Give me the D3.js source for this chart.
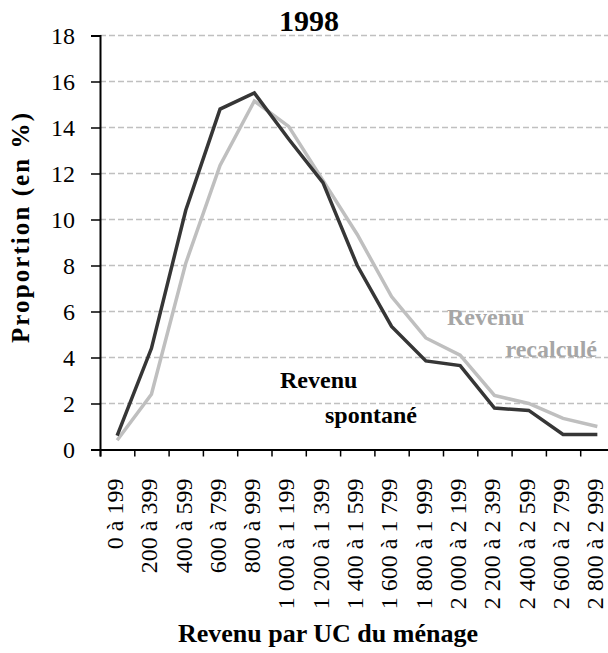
<!DOCTYPE html>
<html>
<head>
<meta charset="utf-8">
<script src="https://cdn.jsdelivr.net/npm/d3@7"></script>
<style>
  html, body { margin: 0; padding: 0; background: #fff; }
  svg { display: block; }
  text { font-family: "Liberation Serif", "Times New Roman", serif; }
</style>
</head>
<body>
<svg id="chart" width="608" height="653"></svg>
<script>
const categories = ["0 à 199", "200 à 399", "400 à 599", "600 à 799", "800 à 999",
  "1 000 à 1 199", "1 200 à 1 399", "1 400 à 1 599", "1 600 à 1 799", "1 800 à 1 999",
  "2 000 à 2 199", "2 200 à 2 399", "2 400 à 2 599", "2 600 à 2 799", "2 800 à 2 999"];
const spontane = [0.6, 4.4, 10.4, 14.8, 15.5, 13.5, 11.6, 8.0, 5.35, 3.85, 3.65, 1.8, 1.7, 0.65, 0.65];
const recalcule = [0.4, 2.4, 8.1, 12.35, 15.15, 14.05, 11.7, 9.35, 6.65, 4.85, 4.1, 2.35, 2.0, 1.35, 1.0];
const yTicks = [0, 2, 4, 6, 8, 10, 12, 14, 16, 18];
const title = "1998";
const xTitle = "Revenu par UC du ménage";
const yTitle = "Proportion (en %)";

const FONT = '"Liberation Serif", "Times New Roman", serif';
const svg = d3.select("#chart");
svg.append("rect").attr("width", 608).attr("height", 653).attr("fill", "#fff");

const x0 = 100, x1 = 614.5, yTop = 35.5, yBot = 449.5;
const x = d3.scaleBand().domain(categories).range([x0, x1]).padding(0);
const xb = d3.scaleLinear().domain([0, categories.length]).range([x0, x1]);
const y = d3.scaleLinear().domain([0, 18]).range([yBot, yTop]);

// gridlines
svg.append("g").selectAll("line").data(yTicks.filter(d => d > 0)).join("line")
  .attr("x1", x0).attr("x2", x1)
  .attr("y1", d => y(d)).attr("y2", d => y(d))
  .attr("stroke", "#c0c0c0").attr("stroke-width", 1.5)
  .attr("stroke-dasharray", "6,3");

// y axis
const gy = svg.append("g").attr("transform", `translate(${x0},0)`)
  .call(d3.axisLeft(y).tickValues(yTicks).tickSize(9).tickPadding(16).tickFormat(d3.format("d")));
gy.attr("font-family", FONT);
gy.select(".domain").attr("stroke", "#000").attr("stroke-width", 2);
gy.selectAll(".tick line").attr("stroke", "#000").attr("stroke-width", 1.5);
gy.selectAll(".tick text").attr("font-size", 24).attr("fill", "#000");

// x axis boundary ticks
const gxb = svg.append("g").attr("transform", `translate(0,${yBot})`)
  .call(d3.axisBottom(xb).tickValues(d3.range(0, categories.length + 1)).tickSize(7).tickFormat(""));
gxb.select(".domain").attr("stroke", "#000").attr("stroke-width", 2);
gxb.selectAll(".tick line").attr("stroke", "#000").attr("stroke-width", 1.5);

// x labels
const gx = svg.append("g").attr("transform", `translate(0,${yBot})`)
  .call(d3.axisBottom(x).tickSize(0));
gx.attr("font-family", FONT);
gx.select(".domain").remove();
gx.selectAll(".tick text")
  .attr("transform", "rotate(-90)")
  .attr("x", -29).attr("y", 0).attr("dy", "0.24em")
  .attr("text-anchor", "end")
  .attr("font-size", 24).attr("fill", "#000");

// lines
const line = d3.line().x((d, i) => x(categories[i]) + x.bandwidth() / 2).y(d => y(d));
svg.append("path").datum(recalcule).attr("d", line)
  .attr("fill", "none").attr("stroke", "#bfbfbf").attr("stroke-width", 3.5)
  .attr("stroke-linejoin", "miter");
svg.append("path").datum(spontane).attr("d", line)
  .attr("fill", "none").attr("stroke", "#363636").attr("stroke-width", 3.5)
  .attr("stroke-linejoin", "miter");

// line labels
svg.append("text").attr("x", 280).attr("y", 388).attr("font-size", 24).attr("font-weight", "bold")
  .attr("fill", "#000").text("Revenu");
svg.append("text").attr("x", 417).attr("y", 423).attr("text-anchor", "end").attr("font-size", 24)
  .attr("font-weight", "bold").attr("fill", "#000").text("spontané");
svg.append("text").attr("x", 447).attr("y", 325).attr("font-size", 24).attr("font-weight", "bold")
  .attr("fill", "#a6a6a6").text("Revenu");
svg.append("text").attr("x", 597).attr("y", 357).attr("text-anchor", "end").attr("font-size", 24)
  .attr("font-weight", "bold").attr("fill", "#a6a6a6").text("recalculé");

// title
svg.append("text").attr("x", 309).attr("y", 31).attr("text-anchor", "middle")
  .attr("font-size", 30).attr("font-weight", "bold").attr("fill", "#000").text(title);

// axis titles
svg.append("text").attr("x", 328).attr("y", 642).attr("text-anchor", "middle")
  .attr("font-size", 26).attr("font-weight", "bold").attr("fill", "#000").text(xTitle);
svg.append("text").attr("transform", "translate(29,228) rotate(-90)").attr("text-anchor", "middle")
  .attr("font-size", 25).attr("font-weight", "bold").attr("fill", "#000")
  .attr("textLength", 230).attr("lengthAdjust", "spacing").text(yTitle);
</script>
</body>
</html>
